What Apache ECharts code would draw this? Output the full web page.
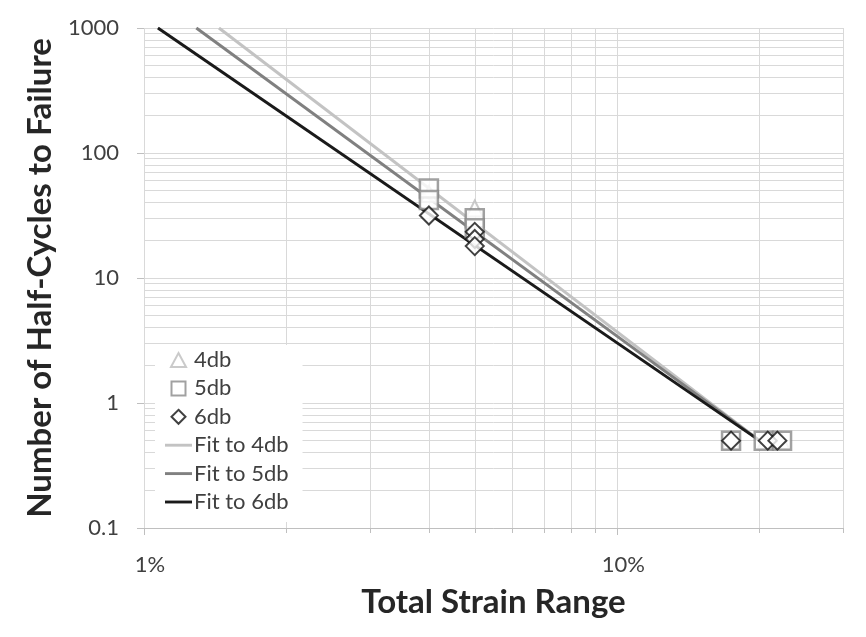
<!DOCTYPE html>
<html>
<head>
<meta charset="utf-8">
<script src="https://cdn.jsdelivr.net/npm/echarts@6/dist/echarts.min.js"></script>
<style>
  html, body { margin: 0; padding: 0; background: #fff; }
  #frame { position: absolute; left: 5px; top: 6px; width: 900px; height: 700px; border: 1px solid #8c8c8c; }
  #chart { position: absolute; left: 0; top: 0; width: 866px; height: 637px; }
</style>
</head>
<body>
<div id="frame"></div>
<div id="chart"></div>
<script>
// Total strain range (%) and half-cycles to failure for each specimen group
const strain4db = [4, 5, 17.4, 20.6, 22.2];
const cycles4db = [47, 36, 0.5, 0.5, 0.5];

const strain5db = [4, 4, 5, 5, 17.4, 20.4, 22.3];
const cycles5db = [52, 42, 30, 25, 0.5, 0.5, 0.5];

const strain6db = [4, 5, 5, 5, 17.4, 20.8, 21.8];
const cycles6db = [31.6, 23.4, 20.5, 18, 0.5, 0.5, 0.5];

// Power-law fit lines, given by their two end points
const fit4Strain = [1.44, 20];
const fit4Cycles = [1000, 0.5];
const fit5Strain = [1.29, 20];
const fit5Cycles = [1000, 0.5];
const fit6Strain = [1.07, 20];
const fit6Cycles = [1000, 0.5];

// Axis ranges and tick values
const xMin = 1, xMax = 30;
const yMin = 0.1, yMax = 1000;
const xMajorTicks = [1, 10];
const xMinorTicks = [2, 3, 4, 5, 6, 7, 8, 9, 20, 30];
const yMinorTicks = [0.2, 0.3, 0.4, 0.5, 0.6, 0.7, 0.8, 0.9,
                     2, 3, 4, 5, 6, 7, 8, 9,
                     20, 30, 40, 50, 60, 70, 80, 90,
                     200, 300, 400, 500, 600, 700, 800, 900];

const pairs = (xs, ys) => xs.map((x, i) => [x, ys[i]]);

const FONT = 'Lato';
const GRID = '#d9d9d9';

// Legend glyphs (kept square so they are not stretched by the item box)
const ICON_TRIANGLE = 'path://M7,0L14,13L0,13Z';
const ICON_SQUARE = 'path://M0,0H14V14H0Z';
const ICON_DIAMOND = 'path://M7,0L14,7L7,14L0,7Z';
const ICON_LINE = 'path://M0,0H30V3.2H0Z';

const chart = echarts.init(document.getElementById('chart'), null, { renderer: 'canvas' });

const scatterStyle = (color, width) => ({
  color: '#ffffff',
  borderColor: color,
  borderWidth: width
});

chart.setOption({
  animation: false,
  backgroundColor: '#ffffff',
  grid: { left: 144, right: 23, top: 28, bottom: 109 },
  xAxis: [
    {
      type: 'log', logBase: 10, min: xMin, max: xMax, interval: 1,
      name: 'Total Strain Range', nameLocation: 'middle', nameGap: 58,
      nameTextStyle: { fontFamily: FONT, fontWeight: 'bold', fontSize: 33, color: '#262626' },
      axisLine: { show: true, lineStyle: { color: '#bfbfbf', width: 1 } },
      axisTick: { show: true, length: 7, lineStyle: { color: '#bfbfbf' } },
      axisLabel: {
        margin: 26, fontFamily: FONT, fontSize: 22, color: '#404040',
        padding: [0, 0, 0, 12],
        showMaxLabel: false,
        formatter: v => (xMajorTicks.indexOf(Math.round(v)) >= 0 ? Math.round(v) + '%' : '')
      },
      splitLine: { show: true, lineStyle: { color: GRID, width: 1 } }
    },
    {
      type: 'log', logBase: 10, min: xMin, max: xMax, position: 'bottom',
      axisLine: { show: false },
      axisTick: { show: true, length: 5, customValues: xMinorTicks, lineStyle: { color: '#bfbfbf' } },
      axisLabel: { show: false },
      splitLine: { show: true, lineStyle: { color: GRID, width: 1 } }
    }
  ],
  yAxis: [
    {
      type: 'log', logBase: 10, min: yMin, max: yMax, interval: 1,
      name: 'Number of Half-Cycles to Failure', nameLocation: 'middle', nameGap: 82,
      nameTextStyle: { fontFamily: FONT, fontWeight: 'bold', fontSize: 33, color: '#262626' },
      axisLine: { show: false },
      axisTick: { show: true, length: 7, lineStyle: { color: '#bfbfbf' } },
      axisLabel: {
        margin: 25, fontFamily: FONT, fontSize: 22, color: '#404040',
        formatter: v => String(v)
      },
      splitLine: { show: true, lineStyle: { color: GRID, width: 1 } }
    },
    {
      type: 'log', logBase: 10, min: yMin, max: yMax, position: 'left',
      axisLine: { show: false },
      axisTick: { show: false, customValues: yMinorTicks },
      axisLabel: { show: false },
      splitLine: { show: true, lineStyle: { color: GRID, width: 1 } }
    }
  ],
  legend: {
    orient: 'vertical',
    left: 155, top: 345,
    padding: [4, 14, 9, 10],
    backgroundColor: '#ffffff',
    itemWidth: 27, itemHeight: 14, itemGap: 6.4,
    symbolKeepAspect: true,
    textStyle: { fontFamily: FONT, fontSize: 22, color: '#404040', lineHeight: 22, padding: [0, 0, 0, -3] },
    data: [
      { name: '4db', icon: ICON_TRIANGLE },
      { name: '5db', icon: ICON_SQUARE },
      { name: '6db', icon: ICON_DIAMOND },
      { name: 'Fit to 4db', icon: ICON_LINE },
      { name: 'Fit to 5db', icon: ICON_LINE },
      { name: 'Fit to 6db', icon: ICON_LINE }
    ]
  },
  series: [
    {
      name: 'Fit to 4db', type: 'line', symbol: 'none', z: 2,
      data: pairs(fit4Strain, fit4Cycles),
      lineStyle: { color: '#c3c3c3', width: 3 }, itemStyle: { color: '#c3c3c3' }
    },
    {
      name: 'Fit to 5db', type: 'line', symbol: 'none', z: 2,
      data: pairs(fit5Strain, fit5Cycles),
      lineStyle: { color: '#808080', width: 3 }, itemStyle: { color: '#808080' }
    },
    {
      name: 'Fit to 6db', type: 'line', symbol: 'none', z: 2,
      data: pairs(fit6Strain, fit6Cycles),
      lineStyle: { color: '#1a1a1a', width: 3 }, itemStyle: { color: '#1a1a1a' }
    },
    {
      name: '4db', type: 'scatter', symbol: 'triangle', symbolSize: 16, z: 3,
      data: pairs(strain4db, cycles4db),
      itemStyle: scatterStyle('#bdbdbd', 2)
    },
    {
      name: '5db', type: 'scatter', symbol: 'rect', symbolSize: 18, z: 4,
      data: pairs(strain5db, cycles5db),
      itemStyle: scatterStyle('#8a8a8a', 2.5)
    },
    {
      name: '6db', type: 'scatter', symbol: 'diamond', symbolSize: 18, z: 5,
      data: pairs(strain6db, cycles6db),
      itemStyle: scatterStyle('#111111', 2)
    }
  ]
});
</script>
</body>
</html>
